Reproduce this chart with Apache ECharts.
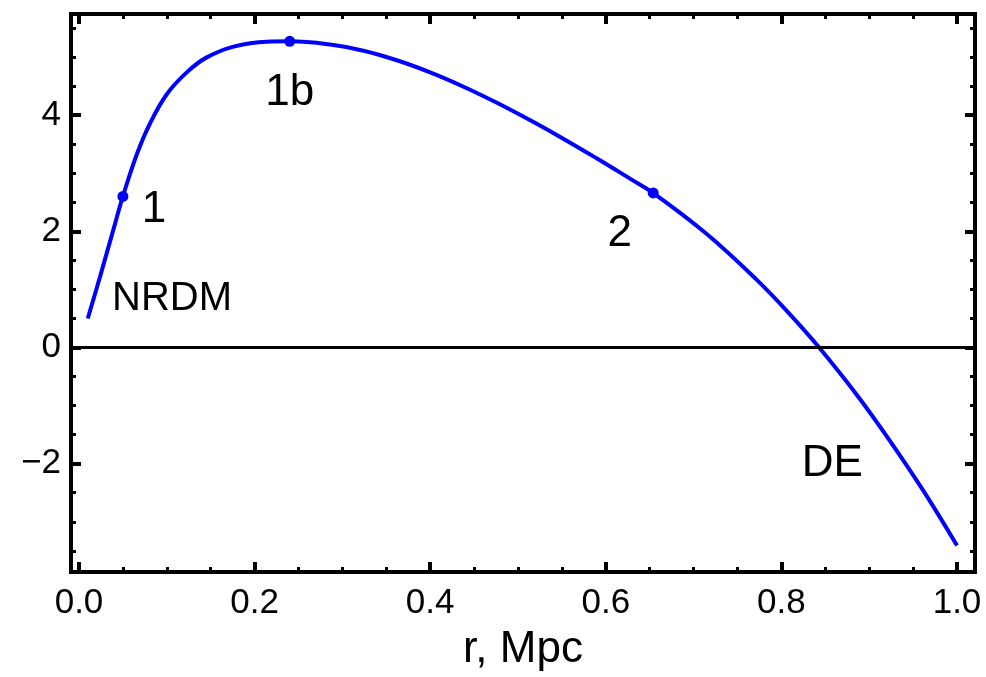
<!DOCTYPE html>
<html>
<head>
<meta charset="utf-8">
<script src="https://cdn.jsdelivr.net/npm/echarts@6/dist/echarts.min.js"></script>
<style>
html,body{margin:0;padding:0;background:#fff;}
#chart{width:986px;height:677px;}
</style>
</head>
<body>
<div id="chart"></div>
<script>
// Curve values
var rValues = [0.01, 0.024, 0.039, 0.05, 0.066, 0.081, 0.10, 0.123, 0.145, 0.176, 0.214, 0.24, 0.286, 0.324, 0.362, 0.40, 0.438, 0.476, 0.514, 0.552, 0.59, 0.628, 0.654, 0.715, 0.772, 0.81, 0.843, 0.886, 0.924, 0.962, 1.0];
var fValues = [0.50, 1.22, 2.02, 2.60, 3.33, 3.86, 4.36, 4.74, 4.99, 5.18, 5.265, 5.27, 5.215, 5.109, 4.945, 4.736, 4.489, 4.212, 3.91, 3.591, 3.253, 2.903, 2.66, 1.954, 1.164, 0.567, 0.0, -0.817, -1.615, -2.474, -3.41];

// Marked points
var pointR = [0.05, 0.24, 0.654];
var pointF = [2.60, 5.27, 2.66];

// Text annotations (anchor in data coordinates)
var annoText = ['1', '1b', '2', 'NRDM', 'DE'];
var annoR = [0.0854, 0.240, 0.616, 0.106, 0.858];
var annoF = [2.37, 4.39, 1.96, 0.84, -2.01];

// Axes
var xMajorTicks = [0, 0.2, 0.4, 0.6, 0.8, 1.0];
var xMinorTicks = [0.05, 0.1, 0.15, 0.25, 0.3, 0.35, 0.45, 0.5, 0.55, 0.65, 0.7, 0.75, 0.85, 0.9, 0.95];
var yMajorTicks = [-2, 0, 2, 4];
var yMinorTicks = [-3.5, -3, -2.5, -1.5, -1, -0.5, 0.5, 1, 1.5, 2.5, 3, 3.5, 4.5, 5, 5.5];
var xRange = [-0.0091, 1.0205];
var yRange = [-3.865, 5.741];
var xTitle = 'r, Mpc';

var FONT = '"Liberation Sans", Arial, sans-serif';

function xAx(pos, ticks, len, w, labels) {
  return {
    type: 'value', position: pos, min: xRange[0], max: xRange[1],
    axisLine: {show: false, onZero: false}, splitLine: {show: false},
    axisTick: {show: true, inside: true, length: len, customValues: ticks, lineStyle: {color: '#000', width: w}},
    axisLabel: labels ? {show: true, customValues: ticks, margin: 14, fontSize: 35, color: '#000', fontFamily: FONT,
      formatter: function (v) { return v.toFixed(1); }} : {show: false}
  };
}
function yAx(pos, ticks, len, w, labels) {
  return {
    type: 'value', position: pos, min: yRange[0], max: yRange[1],
    axisLine: {show: false, onZero: false}, splitLine: {show: false},
    axisTick: {show: true, inside: true, length: len, customValues: ticks, lineStyle: {color: '#000', width: w}},
    axisLabel: labels ? {show: true, customValues: ticks, margin: 10, fontSize: 35, color: '#000', fontFamily: FONT,
      formatter: function (v) { return v < 0 ? '\u2212' + Math.abs(v) : String(v); }} : {show: false}
  };
}

var xAxes = [xAx('bottom', xMajorTicks, 10, 4, true), xAx('bottom', xMinorTicks, 5, 3, false),
             xAx('top', xMajorTicks, 10, 4, false), xAx('top', xMinorTicks, 5, 3, false)];
xAxes[0].name = xTitle;
xAxes[0].nameLocation = 'middle';
xAxes[0].nameGap = 56;
xAxes[0].nameTextStyle = {fontSize: 44, color: '#000', fontFamily: FONT};

var yAxes = [yAx('left', yMajorTicks, 10, 4, true), yAx('left', yMinorTicks, 5, 3, false),
             yAx('right', yMajorTicks, 10, 4, false), yAx('right', yMinorTicks, 5, 3, false)];

var curve = rValues.map(function (r, i) { return [r, fValues[i]]; });
var pts = pointR.map(function (r, i) { return [r, pointF[i]]; });
var annos = annoText.map(function (t, i) {
  var big = t.length <= 2;
  return {value: [annoR[i], annoF[i]], name: t,
    label: {show: true, fontSize: big ? 44 : 40, color: '#000', fontFamily: FONT}};
});

var chart = echarts.init(document.getElementById('chart'), null, {renderer: 'canvas'});
chart.setOption({
  animation: false,
  backgroundColor: '#fff',
  grid: {left: 71, top: 14, width: 904, height: 561, show: true, borderColor: '#000', borderWidth: 4, backgroundColor: 'transparent'},
  xAxis: xAxes,
  yAxis: yAxes,
  series: [
    {
      type: 'scatter', z: 1, data: annos, symbolSize: 0, silent: true,
      itemStyle: {opacity: 1},
      label: {show: true, position: 'inside', formatter: '{b}', color: '#000', fontFamily: FONT, opacity: 1},
      markLine: {silent: true, symbol: ['none', 'none'], label: {show: false},
        lineStyle: {color: '#000', width: 3, type: 'solid'}, data: [{yAxis: 0}]}
    },
    {
      type: 'line', z: 3, data: curve, smooth: 0.4, showSymbol: false,
      lineStyle: {color: '#0000ff', width: 4}
    },
    {
      type: 'scatter', z: 4, data: pts, symbol: 'circle', symbolSize: 11,
      itemStyle: {color: '#0000ff', opacity: 1}
    }
  ]
});
</script>
</body>
</html>
